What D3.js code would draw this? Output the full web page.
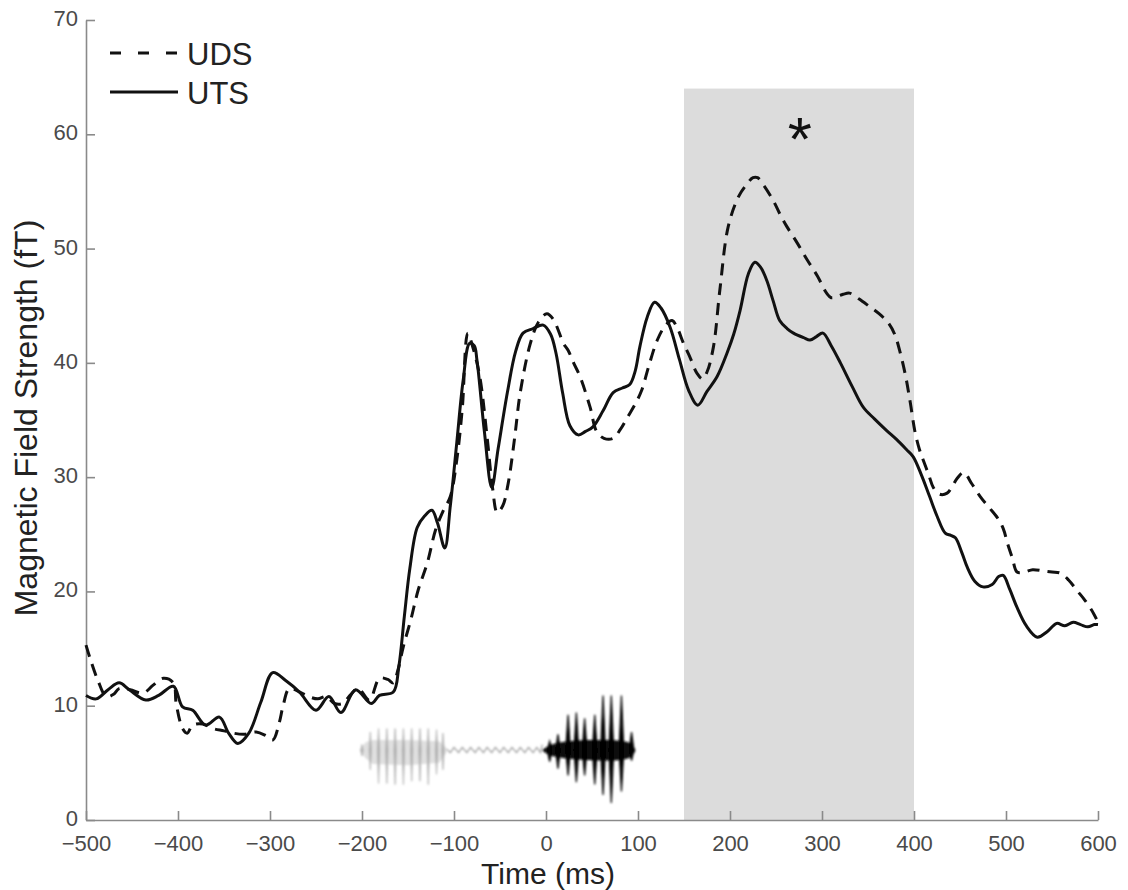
<!DOCTYPE html>
<html>
<head>
<meta charset="utf-8">
<script src="https://cdn.jsdelivr.net/npm/d3@7"></script>
<style>
  html, body { margin: 0; padding: 0; background: #fff; }
  svg { display: block; font-family: "Liberation Sans", Arial, Helvetica, sans-serif; }
</style>
</head>
<body>
<svg id="chart" width="1128" height="890"></svg>
<script>
// Time axis (ms) and y ticks (fT)
const xTicks = [-500, -400, -300, -200, -100, 0, 100, 200, 300, 400, 500, 600];
const yTicks = [0, 10, 20, 30, 40, 50, 60, 70];

// Significance window and marker
const sigWindow = [150, 400];
const sigTop = 64;
const starPos = [276, 61];

// UTS (solid) trace: time (ms), field strength (fT)
const utsTime = [-500,-489,-476,-464,-453,-435,-421,-405,-395,-384,-370,-355,-345,-335,-323,-310,-297,-283,-268,-250,-236,-223,-207,-190,-181,-166,-160,-154,-148,-140,-132,-124,-118,-110,-104,-97,-90,-83,-78,-75,-67,-59,-52,-42,-33,-25,-14,-3,5,11,18,26,35,43,51,62,73,83,91,97,102,110,118,125,135,145,155,165,175,186,197,204,211,220,227,233,240,247,254,262,269,280,287,294,301,310,320,333,345,357,370,381,392,399,408,417,425,434,440,445,452,458,466,475,485,492,497,504,512,522,534,545,555,564,573,581,589,596,600];
const utsValue = [10.9,10.6,11.4,12.0,11.4,10.5,10.9,11.7,9.9,9.6,8.3,9.0,7.6,6.7,7.6,10.3,12.9,12.2,11.2,9.6,10.8,9.4,11.4,10.2,10.9,11.2,13.4,17.8,22.0,25.6,26.6,27.1,26.0,23.8,27.5,33.0,38.5,41.7,41.5,40.2,34.0,29.1,32.5,37.4,41.0,42.6,43.0,43.3,42.5,40.8,37.4,34.5,33.7,34.0,34.4,35.8,37.4,37.8,38.1,39.3,41.4,44.0,45.3,44.8,43.1,40.3,37.6,36.3,37.5,38.8,40.9,42.5,44.6,47.8,48.8,48.4,47.2,45.4,43.7,43.0,42.6,42.2,42.0,42.3,42.6,41.5,40.0,37.9,36.1,35.1,34.1,33.3,32.4,31.8,30.2,28.3,26.6,25.1,24.9,24.7,23.4,22.1,20.9,20.4,20.6,21.3,21.4,20.2,18.6,17.0,16.0,16.5,17.2,17.0,17.3,17.1,16.9,17.1,17.1];

// UDS (dashed) trace
const udsTime = [-500,-495,-487,-478,-470,-464,-452,-438,-427,-416,-405,-402,-395,-390,-384,-373,-362,-350,-340,-328,-315,-305,-297,-290,-286,-279,-268,-258,-248,-239,-230,-221,-212,-204,-192,-181,-172,-166,-161,-155,-147,-139,-129,-120,-112,-104,-97,-91,-85,-80,-72,-64,-58,-53,-47,-41,-34,-28,-17,-8,1,8,19,24,30,37,48,55,63,73,81,89,97,104,112,121,130,137,143,149,157,164,170,175,182,189,198,209,218,225,230,237,247,255,262,273,284,295,305,310,316,323,330,340,352,362,372,379,385,391,396,401,406,410,416,421,428,436,441,447,454,463,472,481,491,497,502,507,512,520,529,540,550,559,568,577,586,595,600];
const udsValue = [15.3,14.0,12.2,10.8,11.0,11.5,11.4,11.1,11.8,12.4,12.0,10.2,8.0,7.6,8.3,8.4,8.0,7.8,7.6,7.5,7.7,7.4,7.0,8.5,9.9,11.5,11.2,10.8,10.6,10.8,10.2,10.2,11.0,11.5,10.5,12.4,12.3,12.0,13.1,15.2,17.5,20.1,22.5,25.4,27.0,28.3,31.5,36.0,42.6,41.5,38.8,33.5,29.0,26.9,27.5,29.5,33.5,37.4,41.7,43.6,44.3,43.8,41.7,41.1,40.0,38.8,36.1,34.0,33.4,33.4,34.2,35.3,36.4,37.6,39.8,42.0,43.3,43.7,43.0,41.8,40.4,39.1,38.6,39.2,41.4,46.4,51.9,54.5,55.6,56.2,56.2,55.5,54.2,52.9,51.9,50.5,49.0,47.6,46.1,45.7,45.8,46.0,46.1,45.6,44.9,44.3,43.5,42.5,40.9,38.8,36.5,34.0,32.4,31.5,30.2,29.1,28.5,28.6,29.1,29.9,30.4,29.4,28.3,27.4,26.4,25.5,24.1,22.9,21.7,21.7,21.9,21.8,21.7,21.6,21.0,20.1,19.2,18.1,17.3];

// Stimulus sketch: first (grey) tone burst
const greySpikeTime = [-200, -191, -182, -173, -164, -155, -146, -137, -128, -119, -112];
const greySpikeHi   = [6.6, 7.7, 8.0, 8.0, 8.0, 8.0, 8.0, 8.0, 8.0, 7.9, 7.6];
const greySpikeLo   = [5.6, 4.4, 3.2, 3.2, 3.1, 3.1, 3.4, 3.4, 3.1, 4.0, 4.4];
const greyBodyTime  = [-202, -196, -188, -150, -116, -108];
const greyBodyHi    = [6.2, 6.8, 7.0, 7.0, 6.9, 6.3];
const greyBodyLo    = [6.0, 5.4, 4.9, 4.8, 5.0, 5.9];

// Low-level carrier between the bursts
const carrierTime  = [-108,-104,-100,-95,-91,-86,-82,-77,-73,-68,-64,-59,-55,-50,-46,-41,-37,-32,-28,-23,-19,-14,-10,-6,-4];
const carrierValue = [6.2,5.9,6.35,5.9,6.35,5.9,6.35,5.9,6.35,5.9,6.35,5.9,6.35,5.9,6.35,5.9,6.35,5.9,6.35,5.9,6.35,5.9,6.35,5.9,6.6];

// Second (black) burst
const blackSpikeTime = [4, 13, 24, 33, 42, 53, 62, 71, 82, 93];
const blackSpikeHi   = [6.9, 7.5, 9.2, 9.4, 8.9, 9.2, 10.9, 10.9, 10.9, 7.7];
const blackSpikeLo   = [5.1, 4.5, 3.9, 3.3, 3.9, 3.1, 2.2, 1.5, 2.5, 5.2];
const blackBodyTime  = [-4, 0, 5, 15, 25, 35, 45, 55, 65, 75, 85, 92, 97];
const blackBodyHi    = [6.15, 6.35, 6.6, 6.8, 6.9, 6.95, 7.0, 7.0, 7.0, 7.0, 6.9, 6.8, 6.2];
const blackBodyLo    = [6.05, 5.85, 5.6, 5.45, 5.35, 5.3, 5.25, 5.2, 5.2, 5.2, 5.3, 5.4, 6.0];

// Legend entries
const legendNames = ["UDS", "UTS"];

const svg = d3.select("#chart");
const margin = { left: 86, right: 30, top: 20, bottom: 70 };
const W = 1128, H = 890;

const x = d3.scaleLinear().domain([-500, 600]).range([margin.left, W - margin.right]);
const y = d3.scaleLinear().domain([0, 70]).range([H - margin.bottom, margin.top]);

// Shaded significance window
svg.append("rect")
  .attr("x", x(sigWindow[0]))
  .attr("y", y(sigTop))
  .attr("width", x(sigWindow[1]) - x(sigWindow[0]))
  .attr("height", y(0) - y(sigTop))
  .attr("fill", "#dcdcdc");

// Soft rendering for the stimulus sketch
const defs = svg.append("defs");
defs.append("filter").attr("id", "soft")
  .append("feGaussianBlur").attr("stdDeviation", 0.8);

const wave = svg.append("g").attr("filter", "url(#soft)");

const bodyArea = d3.area().x(d => x(d[0])).y0(d => y(d[2])).y1(d => y(d[1]));

wave.append("path")
  .datum(greyBodyTime.map((t, i) => [t, greyBodyHi[i], greyBodyLo[i]]))
  .attr("d", bodyArea)
  .attr("fill", "#e0e0e0");

// Each oscillation peak drawn as a tapered vertical stroke
const spikePath = (t, hi, lo, mid, half) => d3.line()([
  [x(t), y(hi)], [x(t + half), y(mid)], [x(t), y(lo)], [x(t - half), y(mid)]
]) + "Z";

wave.selectAll(".gspike")
  .data(greySpikeTime.map((t, i) => [t, greySpikeHi[i], greySpikeLo[i]]))
  .join("path")
  .attr("d", d => spikePath(d[0], d[1], d[2], 6.1, 1.3))
  .attr("fill", "#b0b0b0")
  .attr("stroke", "#b0b0b0")
  .attr("stroke-width", 0.8);

wave.append("path")
  .datum(carrierTime.map((t, i) => [t, carrierValue[i]]))
  .attr("d", d3.line().x(d => x(d[0])).y(d => y(d[1])))
  .attr("fill", "none")
  .attr("stroke", "#9a9a9a")
  .attr("stroke-width", 1.2);

wave.append("path")
  .datum(blackBodyTime.map((t, i) => [t, blackBodyHi[i], blackBodyLo[i]]))
  .attr("d", bodyArea.curve(d3.curveBasis))
  .attr("fill", "#111");

wave.selectAll(".bspike")
  .data(blackSpikeTime.map((t, i) => [t, blackSpikeHi[i], blackSpikeLo[i]]))
  .join("path")
  .attr("d", d => spikePath(d[0], d[1], d[2], 6.1, 2.6))
  .attr("fill", "#000")
  .attr("stroke", "#000")
  .attr("stroke-width", 1.2);

// Axes: ticks point into the plot
const axisColor = "#8a8a8a";
const xAxis = d3.axisBottom(x).tickValues(xTicks).tickSizeInner(-9).tickSizeOuter(0).tickPadding(15);
const yAxis = d3.axisLeft(y).tickValues(yTicks).tickSizeInner(-9).tickSizeOuter(0).tickPadding(8);

const gx = svg.append("g").attr("transform", `translate(0,${y(0)})`).call(xAxis);
const gy = svg.append("g").attr("transform", `translate(${x(-500)},0)`).call(yAxis);

[gx, gy].forEach(g => {
  g.select(".domain").attr("stroke", axisColor).attr("stroke-width", 1.6);
  g.selectAll(".tick line").attr("stroke", axisColor).attr("stroke-width", 1.6);
  g.selectAll(".tick text")
    .attr("fill", "#4a4a4a")
    .style("font-size", "22px")
    .style("font-family", "'Liberation Sans', Arial, sans-serif");
});
gy.selectAll(".tick text").attr("dy", "0.25em");

// Traces
const line = d3.line().x(d => x(d[0])).y(d => y(d[1])).curve(d3.curveCatmullRom.alpha(0.5));

svg.append("path")
  .datum(udsTime.map((t, i) => [t, udsValue[i]]))
  .attr("d", line)
  .attr("fill", "none")
  .attr("stroke", "#111")
  .attr("stroke-width", 3)
  .attr("stroke-dasharray", "12,8");

svg.append("path")
  .datum(utsTime.map((t, i) => [t, utsValue[i]]))
  .attr("d", line)
  .attr("fill", "none")
  .attr("stroke", "#111")
  .attr("stroke-width", 3)
  .attr("stroke-linejoin", "round");

// Significance marker
svg.append("text")
  .attr("x", x(starPos[0]))
  .attr("y", y(starPos[1]))
  .attr("text-anchor", "middle")
  .attr("dy", "0.6em")
  .style("font-size", "62px")
  .attr("fill", "#111")
  .text("*");

// Legend
const legend = svg.append("g");
const legendRows = [
  { name: legendNames[0], dash: "11,17", yPos: 53 },
  { name: legendNames[1], dash: null, yPos: 92 }
];
legendRows.forEach(r => {
  legend.append("line")
    .attr("x1", 110).attr("x2", 178)
    .attr("y1", r.yPos).attr("y2", r.yPos)
    .attr("stroke", "#111").attr("stroke-width", 3)
    .attr("stroke-dasharray", r.dash);
  legend.append("text")
    .attr("x", 187).attr("y", r.yPos + 12)
    .style("font-size", "31px")
    .attr("fill", "#222")
    .text(r.name);
});

// Axis titles
svg.append("text")
  .attr("x", 548)
  .attr("y", 884)
  .attr("text-anchor", "middle")
  .style("font-size", "30px")
  .attr("fill", "#222")
  .text("Time (ms)");

svg.append("text")
  .attr("transform", "translate(37,418) rotate(-90)")
  .attr("text-anchor", "middle")
  .style("font-size", "32px")
  .attr("fill", "#222")
  .text("Magnetic Field Strength (fT)");
</script>
</body>
</html>
